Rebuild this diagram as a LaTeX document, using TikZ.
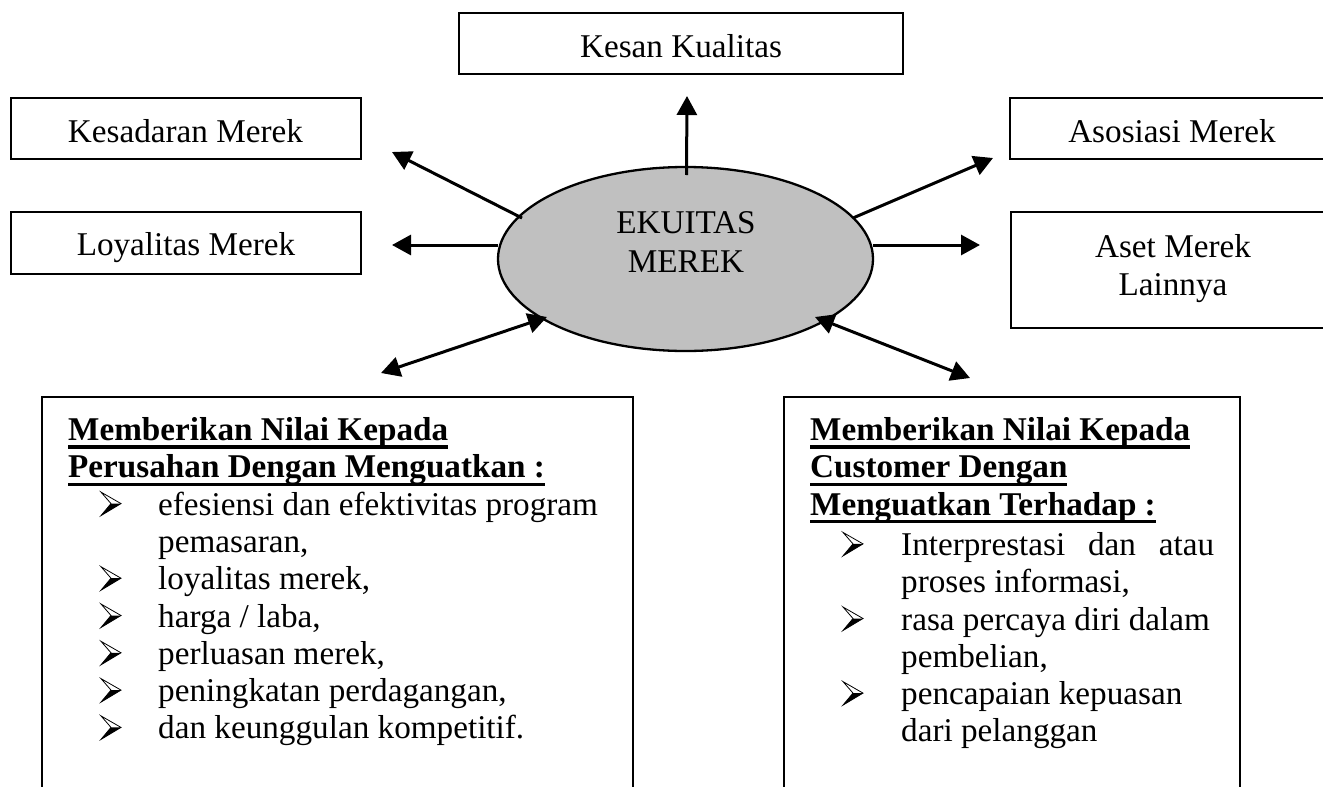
\documentclass[tikz,border=0pt]{standalone}
\usepackage{fontspec}
\setmainfont{Liberation Serif}
\usetikzlibrary{arrows.meta,shapes.geometric}
\definecolor{ellgray}{HTML}{C0C0C0}
\newcommand\fs{\fontsize{33.2}{37.3}\selectfont}
\newsavebox\hulbox
\newcommand\hul[1]{\sbox\hulbox{#1}\rlap{\rule[-8pt]{\wd\hulbox}{3.2pt}}\usebox\hulbox}
\tikzset{
  boxline/.style={draw, line width=2pt, inner sep=0pt},
  txt/.style={inner sep=0pt, anchor=base, font=\fs},
  ltxt/.style={inner sep=0pt, anchor=base west, font=\fs},
  htxt/.style={inner sep=0pt, anchor=base west, font=\fs\bfseries},
  arr/.style={line width=3pt, -{Triangle[length=19pt,width=20pt]}},
  darr/.style={line width=3pt, {Triangle[length=19pt,width=20pt]}-{Triangle[length=19pt,width=20pt]}},
  arrowbullet/.pic={
    \fill[black] (10,-11.5) -- (20,-11.5) -- (0,0.5) -- cycle;
    \draw[line width=0.8pt, line join=miter] (0,-23) -- (20,-11.5) -- (0,0.5) -- (10,-11.5) -- cycle;
  }
}
\begin{document}
\begin{tikzpicture}[x=1pt,y=-1pt]
\useasboundingbox (0,0) rectangle (1323,787);
% top boxes
\node[boxline, minimum width=444pt, minimum height=61pt] (kesan) at (681,43.5) {};
\node[boxline, minimum width=350pt, minimum height=61pt] (kesad) at (186,128.5) {};
\node[boxline, minimum width=350pt, minimum height=62pt] (loyal) at (186,243) {};
\node[boxline, minimum width=324pt, minimum height=61pt] (asos) at (1172,128.5) {};
\node[boxline, minimum width=324pt, minimum height=116pt] (aset) at (1173,270) {};
\node[txt] (tkesan) at (681,57) {Kesan Kualitas};
\node[txt] (tkesad) at (185.5,142) {Kesadaran Merek};
\node[txt] (tloyal) at (186,255) {Loyalitas Merek};
\node[txt] (tasos) at (1172,142) {Asosiasi Merek};
\node[txt] (taset1) at (1173,257) {Aset Merek};
\node[txt] (taset2) at (1173,295) {Lainnya};
% ellipse
\node[ellipse, draw, line width=2.3pt, fill=ellgray, minimum width=375pt, minimum height=184pt, inner sep=0pt] (ell) at (685.5,259) {};
\node[txt] (eku1) at (686,233) {EKUITAS};
\node[txt] (eku2) at (686,272) {MEREK};
% arrow end points
\coordinate (sUp) at (686.5,175); \coordinate (eUp) at (687,96);
\coordinate (sKes) at (522,218);  \coordinate (eKes) at (392,152);
\coordinate (sLoy) at (498,245);  \coordinate (eLoy) at (392,245);
\coordinate (sAso) at (853,218);  \coordinate (eAso) at (993,158);
\coordinate (sAst) at (873,245);  \coordinate (eAst) at (980,245);
\coordinate (sBL) at (547,317);   \coordinate (eBL) at (381,373);
\coordinate (sBR) at (815,317);   \coordinate (eBR) at (970,378);
\draw[arr] (sUp) -- (eUp);
\draw[arr] (sKes) -- (eKes);
\draw[arr] (sLoy) -- (eLoy);
\draw[arr] (sAso) -- (eAso);
\draw[arr] (sAst) -- (eAst);
\draw[darr] (sBL) -- (eBL);
\draw[darr] (sBR) -- (eBR);
% bottom boxes (open at the bottom edge of the page)
\draw[line width=2pt] (42,800) -- (42,397) -- (633,397) -- (633,800);
\draw[line width=2pt] (784,800) -- (784,397) -- (1240,397) -- (1240,800);
% left box text
\node[htxt] (L1) at (68,440.5) {\hul{Memberikan Nilai Kepada}};
\node[htxt] (L2) at (68,477.8) {\hul{Perusahan Dengan Menguatkan :}};
\pic at (101,515.1) {arrowbullet};
\node[ltxt] (L3) at (158,515.1) {efesiensi dan efektivitas program};
\node[ltxt] (L4) at (158,552.4) {pemasaran,};
\pic at (101,589.7) {arrowbullet};
\node[ltxt] (L5) at (158,589.7) {loyalitas merek,};
\pic at (101,627) {arrowbullet};
\node[ltxt] (L6) at (158,627) {harga / laba,};
\pic at (101,664.3) {arrowbullet};
\node[ltxt] (L7) at (158,664.3) {perluasan merek,};
\pic at (101,701.6) {arrowbullet};
\node[ltxt] (L8) at (158,701.6) {peningkatan perdagangan,};
\pic at (101,738.9) {arrowbullet};
\node[ltxt] (L9) at (158,738.9) {dan keunggulan kompetitif.};
% right box text
\node[htxt] (R1) at (810,440.5) {\hul{Memberikan Nilai Kepada}};
\node[htxt] (R2) at (810,477.8) {\hul{Customer Dengan}};
\node[htxt] (R3) at (810,515.1) {\hul{Menguatkan Terhadap :}};
\pic at (843,555.4) {arrowbullet};
\node[ltxt] (R4) at (901,555.4) {\hbox to 313pt{Interprestasi\hfill dan\hfill atau}};
\node[ltxt] (R5) at (901,592.7) {proses informasi,};
\pic at (843,630) {arrowbullet};
\node[ltxt] (R6) at (901,630) {rasa percaya diri dalam};
\node[ltxt] (R7) at (901,667.3) {pembelian,};
\pic at (843,704.6) {arrowbullet};
\node[ltxt] (R8) at (901,704.6) {pencapaian kepuasan};
\node[ltxt] (R9) at (901,741.9) {dari pelanggan};
\end{tikzpicture}
\end{document}
